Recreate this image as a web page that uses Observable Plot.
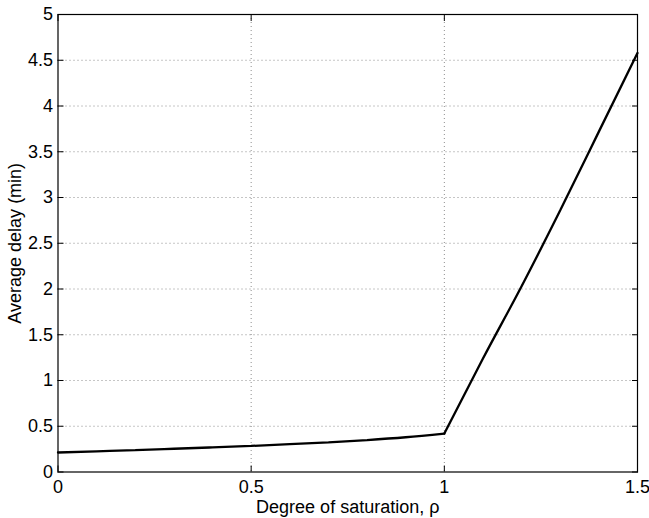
<!DOCTYPE html>
<html>
<head>
<meta charset="utf-8">
<script src="https://cdn.jsdelivr.net/npm/d3@7"></script>
<script src="https://cdn.jsdelivr.net/npm/@observablehq/plot@0.6"></script>
<style>
  html, body { margin: 0; padding: 0; background: #fff; }
  #chart { width: 649px; height: 518px; }
</style>
</head>
<body>
<div id="chart"></div>
<script>
// Degree of saturation (x) and average delay in minutes (y)
const rho   = [0, 0.1, 0.2, 0.3, 0.4, 0.5, 0.6, 0.7, 0.8, 0.9, 1.0, 1.1, 1.2, 1.3, 1.4, 1.5];
const delay = [0.213, 0.226, 0.239, 0.254, 0.269, 0.285, 0.304, 0.324, 0.349, 0.38, 0.42, 1.24, 2.03, 2.86, 3.72, 4.58];
// regime: under-saturated (ρ ≤ 1) and over-saturated (ρ ≥ 1)
const breakRho = 1.0;

const xTicks = [0, 0.5, 1, 1.5];
const yTicks = [0, 0.5, 1, 1.5, 2, 2.5, 3, 3.5, 4, 4.5, 5];
const xLabel = "Degree of saturation, ρ";
const yLabel = "Average delay (min)";

const data = [];
rho.forEach((r, i) => {
  if (r <= breakRho) data.push({rho: r, delay: delay[i], part: "under"});
  if (r >= breakRho) data.push({rho: r, delay: delay[i], part: "over"});
});
const fmt = d => String(d);

const chart = Plot.plot({
  width: 649,
  height: 518,
  marginLeft: 57.5,
  marginRight: 12,
  marginTop: 14,
  marginBottom: 46.5,
  style: {fontFamily: "'Liberation Sans', Arial, Helvetica, sans-serif", fontSize: "18px", background: "#fff", color: "#000"},
  x: {domain: [0, 1.5]},
  y: {domain: [0, 5]},
  marks: [
    Plot.gridX(xTicks.slice(1, -1), {stroke: "#000", strokeOpacity: 0.45, strokeDasharray: "1,3"}),
    Plot.gridY(yTicks.slice(1, -1), {stroke: "#000", strokeOpacity: 0.45, strokeDasharray: "1,3"}),
    Plot.axisX(xTicks, {anchor: "bottom", tickSize: -6, tickPadding: 14.5, tickFormat: fmt, label: null, stroke: "#000"}),
    Plot.axisX(xTicks, {anchor: "top", tickSize: -6, tickFormat: () => "", label: null, stroke: "#000"}),
    Plot.axisY(yTicks, {anchor: "left", tickSize: -6, tickPadding: 11, tickFormat: fmt, label: null, stroke: "#000"}),
    Plot.axisY(yTicks, {anchor: "right", tickSize: -6, tickFormat: () => "", label: null, stroke: "#000"}),
    Plot.frame({stroke: "#000", strokeWidth: 1.2}),
    Plot.line(data, {x: "rho", y: "delay", z: "part", stroke: "#000", strokeWidth: 2.3, curve: "monotone-x", strokeLinejoin: "miter"}),
    Plot.text([xLabel], {text: d => d, frameAnchor: "bottom", dy: 28.5, lineAnchor: "top", textAnchor: "middle", fill: "#000"}),
    Plot.text([yLabel], {text: d => d, frameAnchor: "left", dx: -42.5, rotate: -90, lineAnchor: "middle", textAnchor: "middle", fill: "#000"})
  ]
});
document.getElementById("chart").appendChild(chart);
</script>
</body>
</html>
